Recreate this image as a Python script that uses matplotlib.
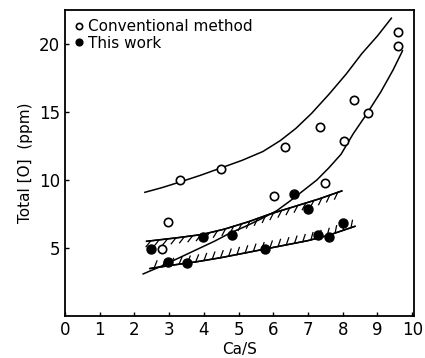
import matplotlib
matplotlib.use("Agg")
import matplotlib.pyplot as plt
import matplotlib.patheffects as pe

# --- measured points -------------------------------------------------------
conv_x = [2.8, 2.98, 3.3, 4.5, 6.02, 6.33, 7.33, 7.5, 8.03, 8.33, 8.72, 9.6, 9.6]
conv_y = [4.9, 6.9, 10.0, 10.8, 8.8, 12.4, 13.9, 9.8, 12.9, 15.9, 14.9, 20.9, 19.85]

work_x = [2.48, 2.98, 3.5, 3.98, 4.8, 5.75, 6.6, 7.0, 7.28, 7.6, 8.0]
work_y = [4.9, 4.0, 3.9, 5.8, 5.95, 4.9, 8.95, 7.9, 5.95, 5.85, 6.85]

# --- hand-drawn curves -----------------------------------------------------
conv_hi_x = [2.3, 2.8, 3.3, 3.9, 4.5, 5.1, 5.7, 6.2, 6.65, 7.1, 7.6, 8.1, 8.55, 9.0, 9.4]
conv_hi_y = [9.1, 9.45, 9.85, 10.35, 10.9, 11.45, 12.1, 12.9, 13.8, 14.9, 16.3, 17.8, 19.3, 20.6, 21.9]

conv_lo_x = [2.25, 2.8, 3.3, 3.8, 4.3, 4.75, 5.2, 5.65, 6.1, 6.5, 6.85, 7.25, 7.6,
             7.95, 8.3, 8.7, 9.1, 9.45, 9.72]
conv_lo_y = [3.1, 3.7, 4.3, 4.9, 5.5, 6.1, 6.6, 7.15, 7.75, 8.5, 9.2, 10.0, 10.9,
             11.9, 13.4, 14.9, 16.5, 18.1, 19.5]

work_hi_x = [2.35, 3.2, 3.95, 4.6, 5.3, 5.9, 6.6, 7.3, 7.97]
work_hi_y = [5.5, 5.75, 6.0, 6.4, 6.95, 7.5, 8.05, 8.6, 9.2]

work_lo_x = [2.45, 3.1, 3.8, 4.5, 5.1, 5.7, 6.4, 7.0, 7.6, 8.35]
work_lo_y = [3.5, 3.75, 4.0, 4.3, 4.6, 4.9, 5.25, 5.55, 5.95, 6.6]

x_ticks = [0, 1, 2, 3, 4, 5, 6, 7, 8, 9, 10]
y_ticks = [5, 10, 15, 20]

fig = plt.figure(figsize=(4.25, 3.58), dpi=100)
ax = fig.add_axes([0.153, 0.117, 0.821, 0.855])

ax.plot(conv_hi_x, conv_hi_y, color="black", lw=1.1)
ax.plot(conv_lo_x, conv_lo_y, color="black", lw=1.1)

ax.plot(work_hi_x, work_hi_y, color="black", lw=1.1,
        path_effects=[pe.withTickedStroke(angle=-135, spacing=6, length=0.9,
                                          linewidth=0.9),
                      pe.Normal()])
ax.plot(work_lo_x, work_lo_y, color="black", lw=1.1,
        path_effects=[pe.withTickedStroke(angle=60, spacing=6, length=0.9,
                                          linewidth=0.9),
                      pe.Normal()])

ax.plot(conv_x, conv_y, "o", mfc="white", mec="black", mew=1.2, ms=6,
        label="Conventional method")
ax.plot(work_x, work_y, "o", mfc="black", mec="black", ms=6.5,
        label="This work")

ax.set_xlim(0, 10.05)
ax.set_ylim(0, 22.5)
ax.set_xticks(x_ticks)
ax.set_yticks(y_ticks)
ax.tick_params(direction="in", length=3, labelsize=12, width=1)
ax.set_xlabel("Ca/S", fontsize=11, labelpad=2)
ax.set_ylabel("Total [O]  (ppm)", fontsize=11, labelpad=4)
for spine in ax.spines.values():
    spine.set_linewidth(1.3)

ax.legend(loc="upper left", frameon=False, fontsize=11, handletextpad=0.3,
          handlelength=0.6, borderaxespad=0.2, labelspacing=0.1,
          markerscale=0.75)

plt.savefig("out.png", dpi=100)
